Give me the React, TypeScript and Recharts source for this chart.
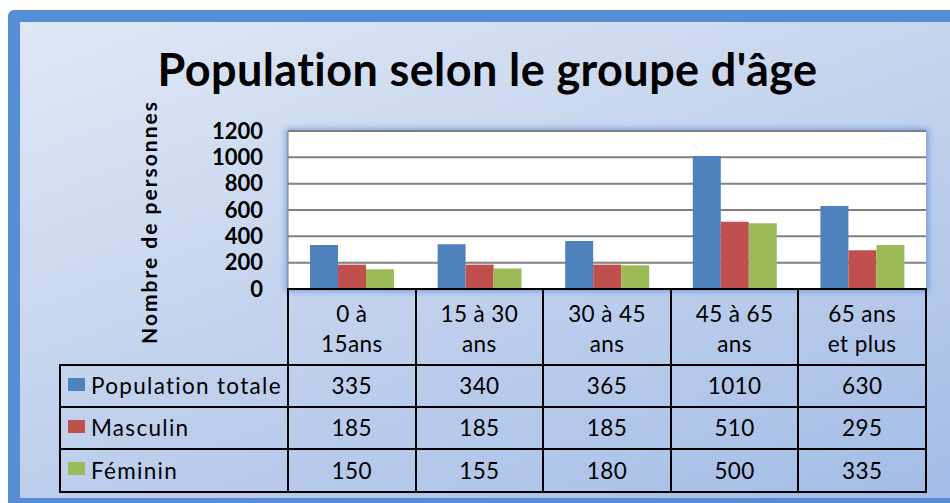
import { BarChart, Bar, XAxis, YAxis, CartesianGrid } from "recharts";

// age groups, split on two lines the way the data table shows them
const categories = [
  ["0 à", "15ans"],
  ["15 à 30", "ans"],
  ["30 à 45", "ans"],
  ["45 à 65", "ans"],
  ["65 ans", "et plus"],
];

const totale = [335, 340, 365, 1010, 630];
const masculin = [185, 185, 185, 510, 295];
const feminin = [150, 155, 180, 500, 335];

const seriesNames = ["Population totale", "Masculin", "Féminin"];
const seriesColors = ["#4F81BD", "#C0504D", "#9BBB59"];
const yTicks = [0, 200, 400, 600, 800, 1000, 1200];

const data = categories.map((c, i) => ({
  name: c.join(" "),
  totale: totale[i],
  masculin: masculin[i],
  feminin: feminin[i],
}));
const seriesKeys = ["totale", "masculin", "feminin"];
const seriesValues = [totale, masculin, feminin];

const FONT = "Lato, 'Open Sans', sans-serif";

// plot area box in page pixels
const PLOT = { left: 288, right: 926, top: 131, bottom: 289 };
const colW = (PLOT.right - PLOT.left) / categories.length;
const rowY = [289, 365, 407, 449, 492];
const labelLeft = 60;

function Cell({ x0, x1, y0, y1, children, align = "center" }: any) {
  return (
    <div
      style={{
        position: "absolute",
        left: x0 - 1,
        top: y0 - 1,
        width: x1 - x0 + 2,
        height: y1 - y0 + 2,
        boxSizing: "border-box",
        border: "2px solid #000",
        display: "flex",
        flexDirection: "column",
        alignItems: align === "center" ? "center" : "flex-start",
        justifyContent: "center",
        fontFamily: FONT,
        fontSize: 22.5,
        color: "#000",
        lineHeight: "30px",
        letterSpacing: 0.4,
      }}
    >
      {children}
    </div>
  );
}

export default function App() {
  return (
    <div
      style={{
        position: "fixed",
        left: 0,
        top: 0,
        width: 950,
        height: 503,
        overflow: "hidden",
        background: "#fff",
      }}
    >
      {/* frame */}
      <div
        style={{
          position: "absolute",
          left: 8,
          top: 10,
          width: 960,
          height: 500,
          boxSizing: "border-box",
          border: "12px solid #558ED5",
          borderRadius: 6,
          background: "linear-gradient(160deg, #dfe8f5 0%, #c5d4ee 45%, #a3bce6 100%)",
        }}
      />

      {/* title */}
      <div
        style={{
          position: "absolute",
          left: 0,
          width: 975,
          top: 42,
          textAlign: "center",
          fontFamily: FONT,
          fontWeight: 700,
          fontSize: 45,
          letterSpacing: 0.4,
          color: "#000",
        }}
      >
        Population selon le groupe d'âge
      </div>

      {/* y axis title */}
      <div
        style={{
          position: "absolute",
          left: 149 - 150,
          top: 222 - 14,
          width: 300,
          height: 28,
          lineHeight: "28px",
          textAlign: "center",
          transform: "rotate(-90deg)",
          fontFamily: FONT,
          fontWeight: 700,
          fontSize: 21,
          letterSpacing: 2,
          color: "#000",
        }}
      >
        Nombre de personnes
      </div>

      {/* plot background with glow */}
      <div
        style={{
          position: "absolute",
          left: PLOT.left,
          top: PLOT.top,
          width: PLOT.right - PLOT.left,
          height: PLOT.bottom - PLOT.top,
          background: "#fff",
          boxShadow: "0 0 6px 2px rgba(90,140,215,0.8)",
        }}
      />

      <div style={{ position: "absolute", left: 0, top: 0 }}>
        <BarChart
          width={950}
          height={503}
          data={data}
          margin={{ top: PLOT.top, right: 950 - PLOT.right, bottom: 503 - PLOT.bottom, left: PLOT.left - 60 }}
          barCategoryGap={22}
          barGap={0}
        >
          <CartesianGrid vertical={false} stroke="#808080" strokeWidth={2} />
          <XAxis dataKey="name" hide />
          <YAxis
            width={60}
            domain={[0, 1200]}
            ticks={yTicks}
            interval={0}
            tickLine={false}
            axisLine={{ stroke: "#808080" }}
            tickMargin={19}
            tick={{ fontSize: 22, fontWeight: 700, fill: "#000", fontFamily: FONT }}
          />
          {seriesKeys.map((k, i) => (
            <Bar key={k} dataKey={k} fill={seriesColors[i]} isAnimationActive={false} />
          ))}
        </BarChart>
      </div>

      {/* data table: category row */}
      {categories.map((lines, ci) => (
        <Cell
          key={"cat-" + ci}
          x0={PLOT.left + ci * colW}
          x1={PLOT.left + (ci + 1) * colW}
          y0={rowY[0]}
          y1={rowY[1]}
        >
          <div style={{ marginTop: 4 }}>
            {lines.map((l) => (
              <div key={l} style={{ textAlign: "center" }}>{l}</div>
            ))}
          </div>
        </Cell>
      ))}

      {/* data table: one row per series */}
      {seriesNames.map((name, si) => (
        <div key={name}>
          <Cell x0={labelLeft} x1={PLOT.left} y0={rowY[si + 1]} y1={rowY[si + 2]} align="left">
            <div style={{ display: "flex", alignItems: "center", paddingLeft: 7 }}>
              <span
                style={{
                  display: "inline-block",
                  width: 17,
                  height: 13,
                  background: seriesColors[si],
                  marginRight: 6,
                  marginTop: -4,
                }}
              />
              <span style={{ letterSpacing: 1.3 }}>{name}</span>
            </div>
          </Cell>
          {seriesValues[si].map((v, ci) => (
            <Cell
              key={ci}
              x0={PLOT.left + ci * colW}
              x1={PLOT.left + (ci + 1) * colW}
              y0={rowY[si + 1]}
              y1={rowY[si + 2]}
            >
              {v}
            </Cell>
          ))}
        </div>
      ))}
    </div>
  );
}
